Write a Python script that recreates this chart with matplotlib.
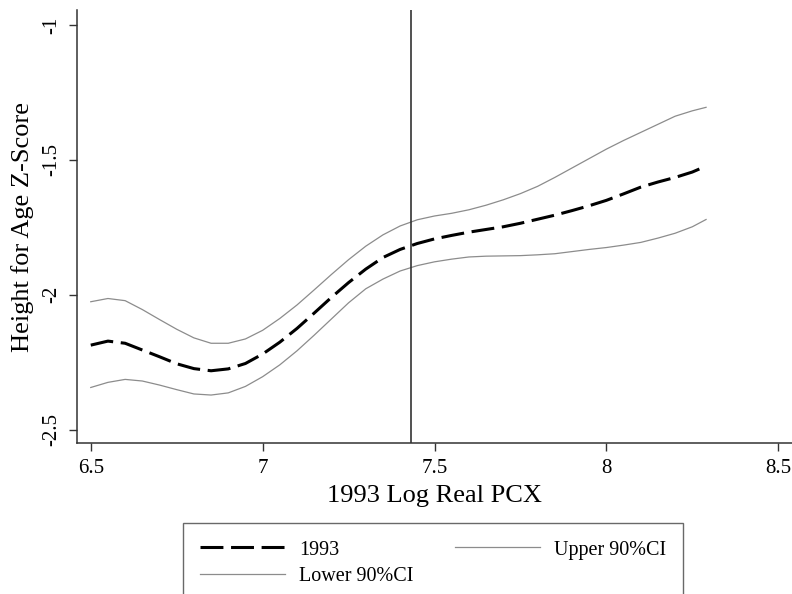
import numpy as np
import matplotlib.pyplot as plt

plt.rcParams['font.family'] = ['Liberation Serif', 'DejaVu Serif']

# Log real per-capita expenditure grid and smoothed z-scores
pcx = [6.50, 6.55, 6.60, 6.65, 6.70, 6.75, 6.80, 6.85, 6.90, 6.95, 7.00,
       7.05, 7.10, 7.15, 7.20, 7.25, 7.30, 7.35, 7.40, 7.45, 7.50, 7.55,
       7.60, 7.65, 7.70, 7.75, 7.80, 7.85, 7.90, 7.95, 8.00, 8.05, 8.10,
       8.15, 8.20, 8.25, 8.29]
haz_1993 = [-2.187, -2.172, -2.180, -2.205, -2.230, -2.256, -2.274, -2.282,
            -2.275, -2.255, -2.220, -2.176, -2.125, -2.068, -2.010, -1.955,
            -1.905, -1.862, -1.832, -1.810, -1.793, -1.780, -1.768, -1.758,
            -1.748, -1.735, -1.720, -1.705, -1.688, -1.670, -1.650, -1.626,
            -1.601, -1.582, -1.565, -1.545, -1.523]
upper_ci = [-2.026, -2.014, -2.022, -2.055, -2.092, -2.128, -2.160, -2.180,
            -2.180, -2.164, -2.132, -2.088, -2.038, -1.982, -1.925, -1.870,
            -1.820, -1.778, -1.745, -1.722, -1.708, -1.698, -1.685, -1.668,
            -1.648, -1.625, -1.598, -1.565, -1.530, -1.495, -1.460, -1.428,
            -1.398, -1.368, -1.338, -1.318, -1.305]
lower_ci = [-2.344, -2.325, -2.314, -2.320, -2.335, -2.352, -2.368, -2.372,
            -2.364, -2.340, -2.304, -2.260, -2.208, -2.150, -2.090, -2.030,
            -1.978, -1.942, -1.912, -1.892, -1.878, -1.868, -1.860, -1.857,
            -1.856, -1.855, -1.852, -1.848, -1.840, -1.832, -1.825, -1.816,
            -1.806, -1.790, -1.772, -1.748, -1.721]
cutoff = 7.431

xticks = [6.5, 7, 7.5, 8, 8.5]
xtick_labels = ['6.5', '7', '7.5', '8', '8.5']
yticks = [-2.5, -2, -1.5, -1]
ytick_labels = ['-2.5', '-2', '-1.5', '-1']

fig = plt.figure(figsize=(7.92, 5.94), dpi=100)
ax = fig.add_axes([0.0968, 0.2537, 0.9032, 0.7295])

l_main, = ax.plot(pcx, haz_1993, color='black', lw=2.2, dashes=(7.5, 2.5),
                  label='1993')
l_up, = ax.plot(pcx, upper_ci, color='#8c8c8c', lw=0.9, label='Upper 90%CI')
l_lo, = ax.plot(pcx, lower_ci, color='#8c8c8c', lw=0.9, label='Lower 90%CI')
ax.axvline(cutoff, color='#333333', lw=1.2)

ax.set_xlim(6.459, 8.54)
ax.set_ylim(-2.551, -0.944)
ax.set_xticks(xticks)
ax.set_xticklabels(xtick_labels)
ax.set_yticks(yticks)
ax.set_yticklabels(ytick_labels, rotation=90, va='center')

for s in ['top', 'right']:
    ax.spines[s].set_visible(False)
for s in ['left', 'bottom']:
    ax.spines[s].set_color('#333333')
    ax.spines[s].set_linewidth(1.1)
ax.tick_params(direction='out', length=6, width=1, colors='#333333',
               labelcolor='black', labelsize=15, pad=5)

ax.set_xlabel('1993 Log Real PCX', fontsize=19, labelpad=5)
ax.set_ylabel('Height for Age Z-Score', fontsize=19, labelpad=6)

leg = fig.legend(handles=[l_main, l_lo, l_up],
                 labels=['1993', 'Lower 90%CI', 'Upper 90%CI'],
                 ncol=2, loc='upper left', bbox_to_anchor=(0.231, 0.119),
                 fontsize=14.5, frameon=True, fancybox=False,
                 handlelength=4.2, handletextpad=0.7, columnspacing=2.1,
                 labelspacing=0.35, borderpad=0.85, borderaxespad=0)
leg.get_frame().set_edgecolor('#444444')
leg.get_frame().set_linewidth(1.0)

fig.savefig('out.png', dpi=100)
